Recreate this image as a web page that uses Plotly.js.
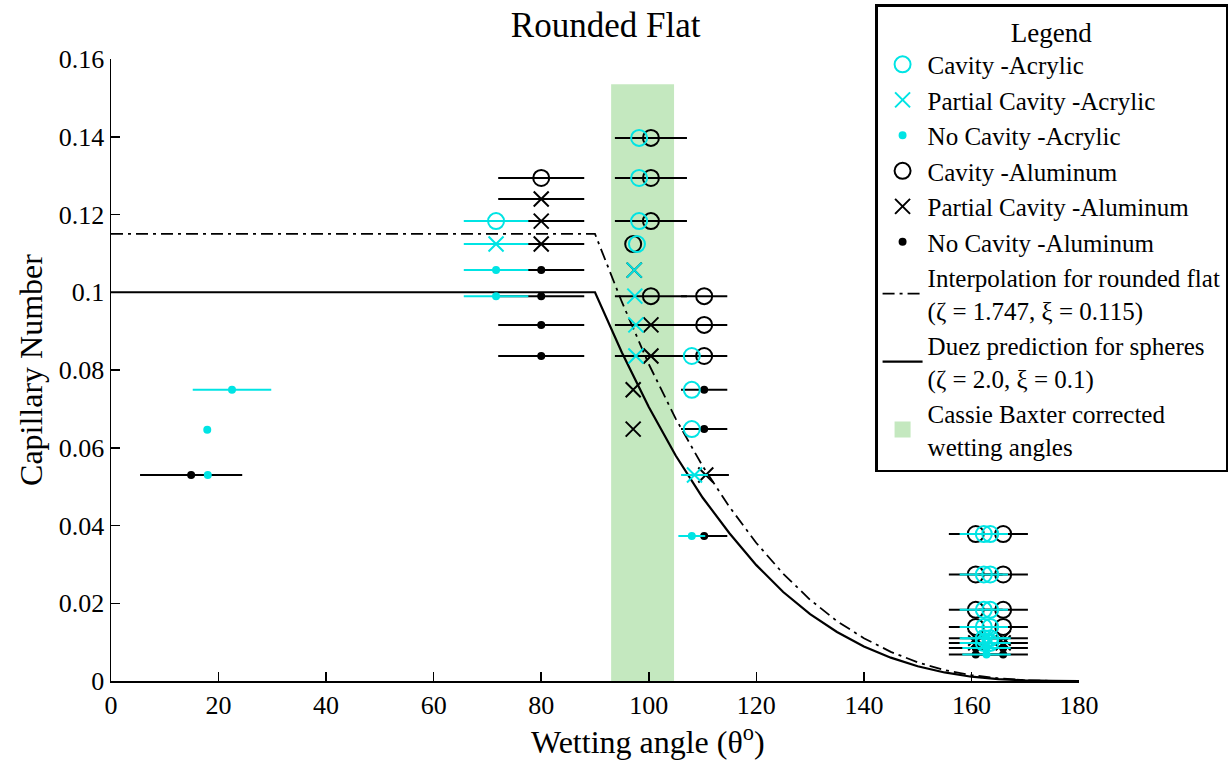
<!DOCTYPE html>
<html>
<head>
<meta charset="utf-8">
<script src="https://cdn.plot.ly/plotly-3.0.1.min.js"></script>
<style>html,body{margin:0;padding:0;background:#fff;}#chart{width:1232px;height:761px;}</style>
</head>
<body>
<div id="chart"></div>
<script>
// ---- Model curves ----
const curveTheta = [0, 90, 95, 100, 105, 110, 115, 120, 125, 130, 135, 140, 145, 150, 155, 160, 165, 170, 175, 180];
const duezCa     = [0.100, 0.100, 0.0845, 0.0705, 0.0580, 0.0472, 0.0380, 0.0298, 0.0229, 0.0172, 0.0126, 0.0089, 0.0060, 0.0038, 0.0022, 0.0011, 0.0005, 0.00015, 0.00002, 0];
const interpCa   = [0.115, 0.115, 0.0975, 0.0815, 0.0675, 0.0553, 0.0448, 0.0355, 0.0276, 0.0209, 0.0154, 0.0110, 0.0075, 0.0048, 0.0028, 0.0015, 0.0007, 0.0002, 0.00003, 0];

// ---- Cassie-Baxter band ----
const cbBand = [93.0, 104.7];
const cbTop = 0.1535;

// ---- Acrylic ----
const acCavTheta = [71.6, 98.2, 98.2, 98.2, 97.8, 108.0, 108.0, 108.0,
                    162.3, 163.5, 162.3, 163.5, 162.3, 163.5, 162.3, 163.5, 162.3, 163.5, 162.3, 163.5];
const acCavCa    = [0.1183, 0.1397, 0.1294, 0.1183, 0.1124, 0.0836, 0.0749, 0.0648,
                    0.0378, 0.0378, 0.0274, 0.0274, 0.0183, 0.0183, 0.0139, 0.0139, 0.0110, 0.0110, 0.0098, 0.0098];
const acCavErr   = [6, 0, 0, 0, 0, 0, 0, 0,
                    4.5, 0, 4.5, 0, 4.5, 0, 4.5, 0, 4.5, 0, 4.5, 0];

const acPartTheta = [71.6, 97.3, 97.4, 97.6, 97.6, 108.5, 162.8, 162.8];
const acPartCa    = [0.1124, 0.1057, 0.0990, 0.0916, 0.0836, 0.0530, 0.0110, 0.0098];
const acPartErr   = [6, 0, 0, 0, 0, 2.5, 4.5, 4.5];

const acNoTheta = [18.0, 17.9, 22.5, 71.6, 71.6, 108.0, 162.8, 162.8];
const acNoCa    = [0.0530, 0.0646, 0.0749, 0.1057, 0.0990, 0.0373, 0.0085, 0.0068];
const acNoErr   = [0, 0, 7.3, 6, 6, 2.5, 4.5, 4.5];

// ---- Aluminum ----
const alCavTheta = [80.0, 100.4, 100.4, 100.4, 97.1, 100.4, 110.3, 110.3, 110.3,
                    160.8, 165.9, 160.8, 165.9, 160.8, 165.9, 160.8, 165.9];
const alCavCa    = [0.1294, 0.1397, 0.1294, 0.1183, 0.1124, 0.0990, 0.0990, 0.0916, 0.0836,
                    0.0378, 0.0378, 0.0274, 0.0274, 0.0183, 0.0183, 0.0139, 0.0139];
const alCavErr   = [8, 6.7, 6.7, 6.7, 0, 6.7, 4.3, 4.3, 4.3,
                    5, 4.6, 5, 4.6, 5, 4.6, 5, 4.6];

const alPartTheta = [80.0, 80.0, 80.0, 97.3, 100.4, 100.4, 97.1, 97.1, 110.6,
                     160.8, 165.9, 160.8, 165.9];
const alPartCa    = [0.1240, 0.1183, 0.1124, 0.1057, 0.0916, 0.0836, 0.0749, 0.0648, 0.0530,
                     0.0110, 0.0110, 0.0098, 0.0098];
const alPartErr   = [8, 8, 8, 0, 6.7, 6.7, 0, 0, 4.3,
                     5, 4.6, 5, 4.6];

const alNoTheta = [14.9, 80.0, 80.0, 80.0, 80.0, 110.3, 110.3, 110.3,
                   160.8, 165.9, 160.8, 165.9];
const alNoCa    = [0.0530, 0.1057, 0.0990, 0.0916, 0.0836, 0.0749, 0.0648, 0.0373,
                   0.0085, 0.0085, 0.0068, 0.0068];
const alNoErr   = [9.5, 8, 8, 8, 8, 4.3, 4.3, 4.3,
                   5, 4.6, 5, 4.6];

const xTicks = [0, 20, 40, 60, 80, 100, 120, 140, 160, 180];
const yTicks = [0, 0.02, 0.04, 0.06, 0.08, 0.1, 0.12, 0.14, 0.16];

const CYAN = 'rgb(0,228,228)';
const BLACK = '#000';
const GREEN = 'rgb(196,232,191)';
const FONT = 'Liberation Serif, Times New Roman, serif';

function pts(name, x, y, err, color, symbol, size, rank) {
  return {
    type: 'scatter', mode: 'markers', name: name, x: x, y: y,
    legendrank: rank,
    marker: {color: color, symbol: symbol, size: size, line: {color: color, width: 2}},
    error_x: {type: 'data', array: err, symmetric: true, width: 0, thickness: 2, color: color},
    cliponaxis: false
  };
}

const traces = [
  {type: 'scatter', mode: 'markers', name: 'Cassie Baxter corrected<br>wetting angles', x: [null], y: [null],
   legendrank: 9, marker: {symbol: 'square', size: 18, color: GREEN}},
  {type: 'scatter', mode: 'lines', name: 'Interpolation for rounded flat<br>(ζ = 1.747, ξ = 0.115)', x: curveTheta, y: interpCa,
   legendrank: 7, line: {color: BLACK, width: 1.8, dash: '12px,5px,3px,5px'}},
  {type: 'scatter', mode: 'lines', name: 'Duez prediction for spheres<br>(ζ = 2.0, ξ = 0.1)', x: curveTheta, y: duezCa,
   legendrank: 8, line: {color: BLACK, width: 2.2}},
  pts('Cavity -Aluminum', alCavTheta, alCavCa, alCavErr, BLACK, 'circle-open', 16, 4),
  pts('Partial Cavity -Aluminum', alPartTheta, alPartCa, alPartErr, BLACK, 'x-thin-open', 15, 5),
  pts('No Cavity -Aluminum', alNoTheta, alNoCa, alNoErr, BLACK, 'circle', 6, 6),
  pts('Cavity -Acrylic', acCavTheta, acCavCa, acCavErr, CYAN, 'circle-open', 16, 1),
  pts('Partial Cavity -Acrylic', acPartTheta, acPartCa, acPartErr, CYAN, 'x-thin-open', 15, 2),
  pts('No Cavity -Acrylic', acNoTheta, acNoCa, acNoErr, CYAN, 'circle', 6, 3)
];

// plot area: x 111..1079, y 59..681 ; legend top at 4
const layout = {
  width: 1232, height: 761,
  margin: {l: 111, r: 153, t: 4, b: 80, autoexpand: false},
  paper_bgcolor: '#fff', plot_bgcolor: '#fff',
  font: {family: FONT, color: '#000', size: 26},
  title: {text: 'Rounded Flat', font: {family: FONT, size: 35, color: '#000'},
          xref: 'paper', x: 0.511, xanchor: 'center', yref: 'container', y: 0.967, yanchor: 'middle'},
  xaxis: {range: [0, 180], tickvals: xTicks, ticktext: xTicks.map(String),
          showgrid: false, zeroline: false, showline: true, linecolor: '#000', linewidth: 1.5,
          ticks: 'inside', ticklen: 9, tickwidth: 1.5, tickcolor: '#000',
          tickfont: {family: FONT, size: 26}, mirror: false, automargin: false},
  yaxis: {range: [0, 0.16], domain: [0, 622 / 677], tickvals: yTicks, ticktext: yTicks.map(String),
          showgrid: false, zeroline: false, showline: true, linecolor: '#000', linewidth: 1.5,
          ticks: 'inside', ticklen: 9, tickwidth: 1.5, tickcolor: '#000',
          tickfont: {family: FONT, size: 26}, mirror: false, automargin: false,
          title: {text: 'Capillary Number', font: {family: FONT, size: 32}, standoff: 6}},
  annotations: [{text: 'Wetting angle (θ<sup>o</sup>)', xref: 'paper', yref: 'paper',
                 x: (648 - 111) / 968, y: (681 - 740) / 677, xanchor: 'center', yanchor: 'middle',
                 showarrow: false, font: {family: FONT, size: 32, color: '#000'}}],
  shapes: [{type: 'rect', xref: 'x', yref: 'y', x0: cbBand[0], x1: cbBand[1], y0: 0, y1: cbTop,
            fillcolor: GREEN, line: {width: 0}, layer: 'below'}],
  showlegend: true,
  legend: {x: 1.154, xanchor: 'right', xref: 'paper', y: 1, yanchor: 'top', yref: 'paper',
           bgcolor: '#fff', bordercolor: '#000', borderwidth: 2.5,
           font: {family: FONT, size: 25, color: '#000'},
           title: {text: 'Legend', side: 'top center', font: {family: FONT, size: 27}},
           traceorder: 'normal', itemsizing: 'trace', tracegroupgap: 0, itemwidth: 40}
};

Plotly.newPlot('chart', traces, layout, {staticPlot: true, displayModeBar: false});
</script>
</body>
</html>
